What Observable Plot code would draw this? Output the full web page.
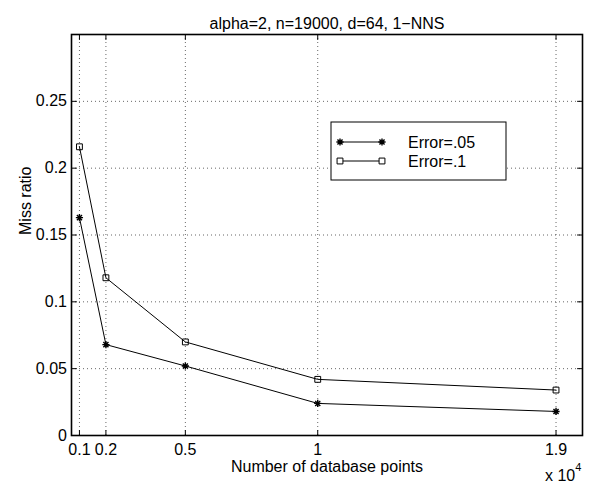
<!DOCTYPE html>
<html><head><meta charset="utf-8">
<script src="https://cdn.jsdelivr.net/npm/d3@7"></script>
<script src="https://cdn.jsdelivr.net/npm/@observablehq/plot@0.6"></script>
<style>body{margin:0;background:#fff} svg{font-family:"Liberation Sans",Arial,sans-serif}</style>
</head><body><div id="chart"></div>
<script>
const xValues = [0.1, 0.2, 0.5, 1, 1.9];
const seriesNames = ["Error=.05", "Error=.1"];
const missErr05 = [0.163, 0.068, 0.052, 0.024, 0.018];
const missErr1 = [0.216, 0.118, 0.070, 0.042, 0.034];
const xTicks = [0.1, 0.2, 0.5, 1, 1.9];
const xTickLabels = ["0.1", "0.2", "0.5", "1", "1.9"];
const yTicks = [0, 0.05, 0.1, 0.15, 0.2, 0.25];
const yTickLabels = ["0", "0.05", "0.1", "0.15", "0.2", "0.25"];
const title = "alpha=2, n=19000, d=64, 1\u2212NNS";
const xLabel = "Number of database points";
const yLabel = "Miss ratio";
const xExponentBase = "x 10";
const xExponent = "4";

const FS = 16;
const star8 = {draw(ctx, size) {
  const r = Math.sqrt(size / Math.PI);
  for (let k = 0; k < 4; k++) {
    const a = k * Math.PI / 4, c = Math.cos(a) * r, s = Math.sin(a) * r;
    ctx.moveTo(-c, -s); ctx.lineTo(c, s);
  }
}};
const seriesSymbols = [star8, d3.symbolSquare];
const seriesValues = [missErr05, missErr1];

const data = [];
seriesNames.forEach((name, s) => xValues.forEach((x, i) => data.push({series: name, s, x, y: seriesValues[s][i]})));

const tickShape = {draw(ctx, l) { ctx.moveTo(0, 0); ctx.lineTo(0, -l); }};
const tk = {length: 5, anchor: "start", shape: tickShape, stroke: "#000", strokeWidth: 1};

const chart = Plot.plot({
  width: 590, height: 485,
  marginLeft: 71, marginRight: 8, marginTop: 34, marginBottom: 50,
  style: {fontFamily: '"Liberation Sans", Arial, sans-serif', fontSize: FS + "px", background: "#fff", color: "#000"},
  x: {domain: [0.07, 2.0], axis: null},
  y: {domain: [0, 0.3], axis: null},
  marks: [
    Plot.gridX(xTicks, {stroke: "#000", strokeOpacity: 0.6, strokeDasharray: "1,3"}),
    Plot.gridY(yTicks.filter(d => d > 0), {stroke: "#000", strokeOpacity: 0.6, strokeDasharray: "1,3"}),
    Plot.vectorX(xTicks, {...tk, frameAnchor: "bottom", rotate: 0}),
    Plot.vectorX(xTicks, {...tk, frameAnchor: "top", rotate: 180}),
    Plot.vectorY(yTicks, {...tk, frameAnchor: "left", rotate: 90}),
    Plot.vectorY(yTicks, {...tk, frameAnchor: "right", rotate: -90}),
    Plot.frame({stroke: "#000", strokeWidth: 1.6}),
    Plot.line(data, {x: "x", y: "y", z: "series", stroke: "#000", strokeWidth: 1}),
    Plot.dot(data.filter(d => d.s === 0), {x: "x", y: "y", symbol: () => seriesSymbols[0], r: 3.6, stroke: "#000", strokeWidth: 1.4}),
    Plot.dot(data.filter(d => d.s === 1), {x: "x", y: "y", symbol: () => seriesSymbols[1], r: 3.3, stroke: "#000", fill: "none", strokeWidth: 1}),
    Plot.text(xTicks, {x: d => d, frameAnchor: "bottom", text: (d, i) => xTickLabels[i], lineAnchor: "top", dy: 8, fontSize: FS}),
    Plot.text(yTicks, {y: d => d, frameAnchor: "left", text: (d, i) => yTickLabels[i], textAnchor: "end", dx: -4.5, fontSize: FS}),
    Plot.text([title], {frameAnchor: "top", dy: -17, fontSize: FS}),
    Plot.text([xLabel], {frameAnchor: "bottom", dy: 36.5, fontSize: FS}),
    Plot.text([yLabel], {frameAnchor: "left", dx: -46, rotate: -90, fontSize: FS})
  ]
});
document.getElementById("chart").appendChild(chart);

// legend and exponent label
const svg = d3.select(chart);
const lg = svg.append("g").attr("font-size", FS).attr("text-anchor", "start");
lg.append("rect").attr("x", 331).attr("y", 122).attr("width", 175).attr("height", 58)
  .attr("fill", "#fff").attr("stroke", "#000").attr("stroke-width", 1);
seriesNames.forEach((name, s) => {
  const y = 142 + 19 * s;
  lg.append("line").attr("x1", 340).attr("x2", 382).attr("y1", y).attr("y2", y).attr("stroke", "#000");
  [340, 382].forEach(x => {
    lg.append("path").attr("transform", `translate(${x},${y})`)
      .attr("d", d3.symbol(seriesSymbols[s], Math.PI * (s === 0 ? 3.6 : 3.3) ** 2)())
      .attr("fill", s === 0 ? "none" : "#fff").attr("stroke", "#000").attr("stroke-width", s === 0 ? 1.4 : 1);
  });
  lg.append("text").attr("x", 408).attr("y", y + 6).text(name);
});
const ex = svg.append("text").attr("x", 545).attr("y", 480.5).attr("font-size", FS).attr("text-anchor", "start");
ex.append("tspan").text(xExponentBase);
ex.append("tspan").attr("dy", -10).attr("font-size", 11).text(xExponent);
</script></body></html>
